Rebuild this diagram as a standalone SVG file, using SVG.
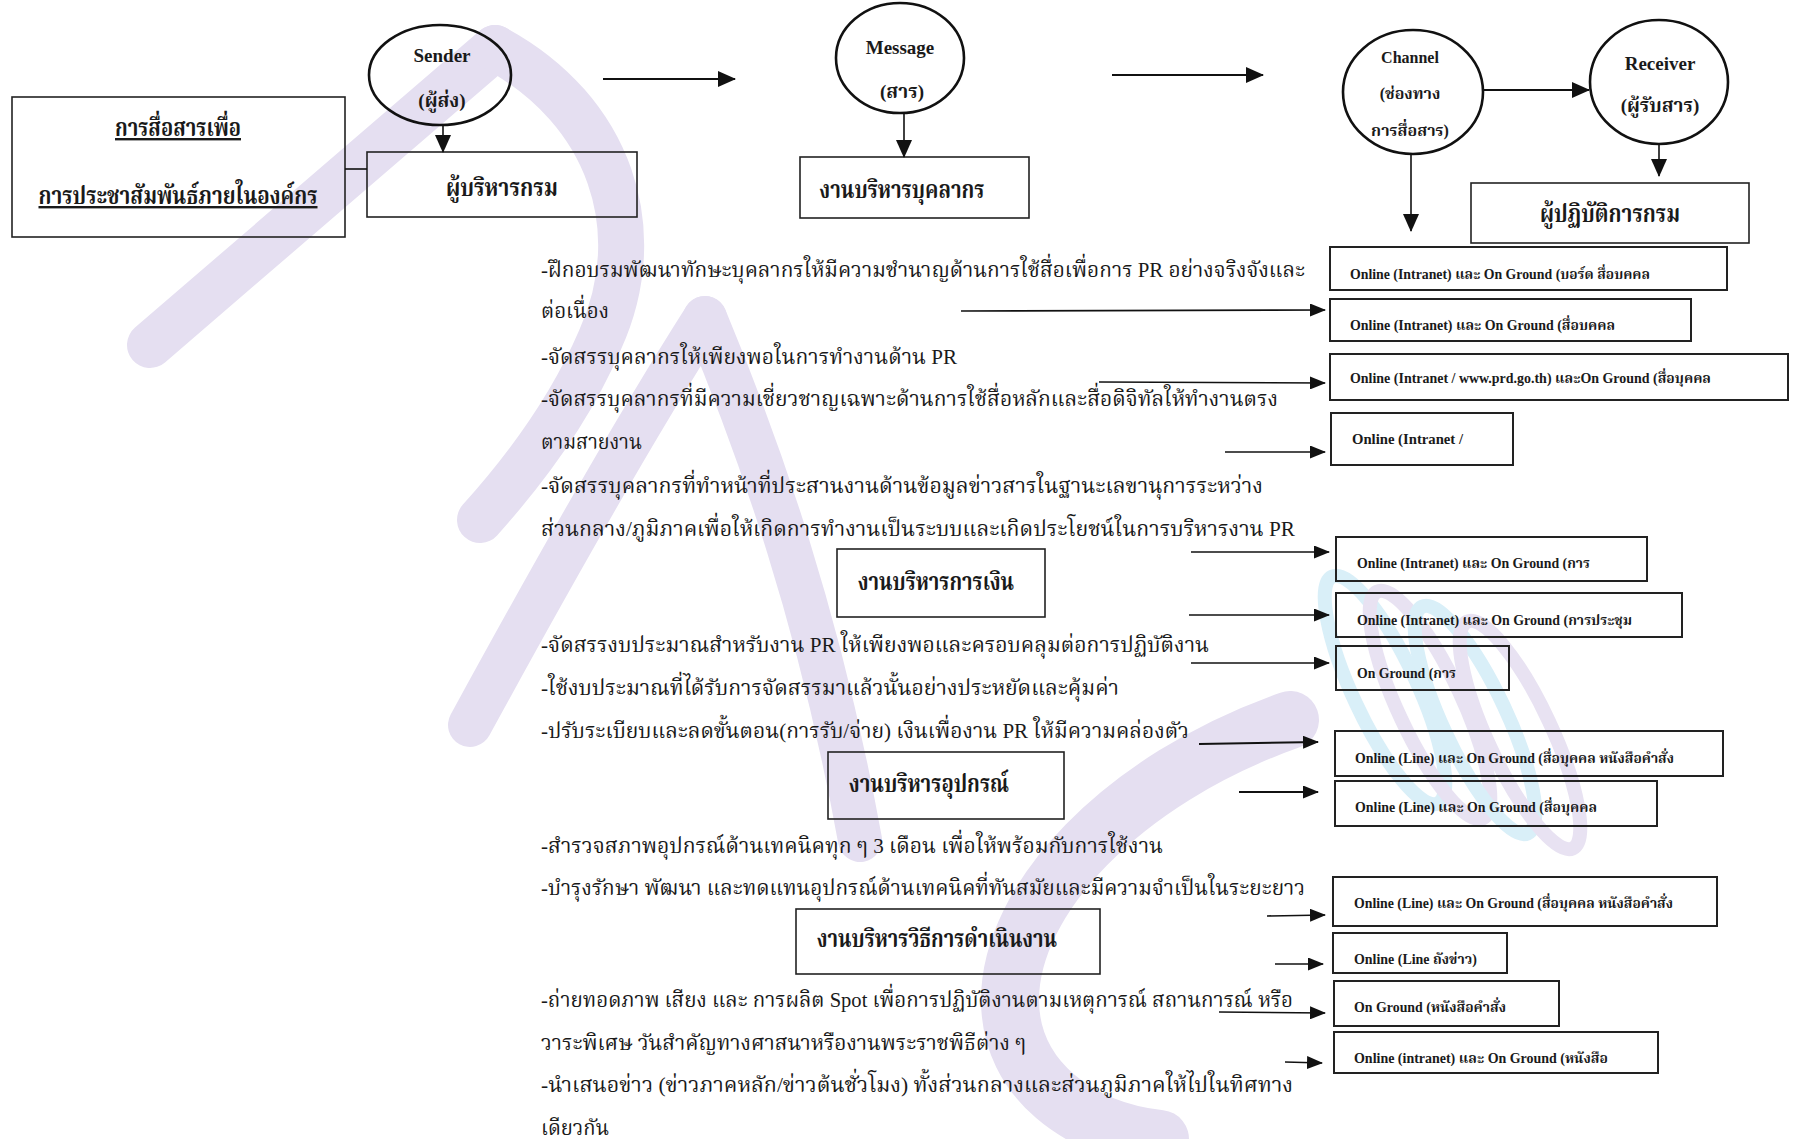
<svg xmlns="http://www.w3.org/2000/svg" width="1794" height="1139" viewBox="0 0 1794 1139">
  <defs>
    <marker id="head" markerUnits="userSpaceOnUse" markerWidth="16" markerHeight="13" refX="15" refY="6.5" orient="auto">
      <path d="M0,0 L16,6.5 L0,13 z" fill="#111"/>
    </marker>
    <marker id="headBig" markerUnits="userSpaceOnUse" markerWidth="18" markerHeight="16" refX="17" refY="8" orient="auto">
      <path d="M0,0 L18,8 L0,16 z" fill="#111"/>
    </marker>
    <style>
      .bg { fill: #ffffff; }
      .wm { fill: none; stroke: #e5dff1; stroke-linecap: round; }
      .wmc { fill: none; stroke: #d9eff8; }
      .wml { fill: none; stroke: #e8e2f2; }
      .box { fill: none; stroke: #222; stroke-width: 1.6; }
      .rbox { fill: none; stroke: #222; stroke-width: 2; }
      .oval { fill: none; stroke: #111; stroke-width: 2.6; }
      .con { fill: none; stroke: #111; stroke-width: 1.6; }
      .conT { fill: none; stroke: #111; stroke-width: 2; }
      text { font-family: "Liberation Serif", "Noto Serif Thai", "Noto Sans Thai", "Loma", serif; fill: #1a1a1a; }
      .body { font-size: 22px; }
      .lbl { font-size: 24px; font-weight: bold; text-anchor: middle; }
      .ov { font-size: 19px; font-weight: bold; text-anchor: middle; }
      .ovs { font-size: 16px; font-weight: bold; text-anchor: middle; }
      .rt { font-size: 14px; font-weight: bold; }
      .ul { text-decoration: underline; }
    </style>
  </defs>

  <rect class="bg" x="0" y="0" width="1794" height="1139"/>

  <!-- faint background emblem -->
  <g id="emblem">
    <path class="wm" stroke-width="46" d="M150,345 L495,48"/>
    <path class="wm" stroke-width="46" d="M495,48 C610,110 650,230 600,340 C570,410 525,470 480,520"/>
    <path class="wm" stroke-width="44" d="M470,725 C560,560 640,420 705,318"/>
    <path class="wm" stroke-width="44" d="M705,318 C760,450 820,620 860,840"/>
    <path class="wm" stroke-width="58" d="M1290,720 C1120,780 1010,900 1010,1000 C1010,1080 1080,1130 1160,1139"/>
    <g>
      <ellipse class="wmc" stroke-width="14" cx="1385" cy="690" rx="32" ry="125" transform="rotate(-25 1385 690)"/>
      <ellipse class="wml" stroke-width="14" cx="1430" cy="705" rx="32" ry="125" transform="rotate(-25 1430 705)"/>
      <ellipse class="wmc" stroke-width="14" cx="1475" cy="720" rx="32" ry="125" transform="rotate(-25 1475 720)"/>
      <ellipse class="wml" stroke-width="14" cx="1520" cy="735" rx="32" ry="125" transform="rotate(-25 1520 735)"/>
    </g>
  </g>

  <!-- title box -->
  <g id="title">
    <rect class="box" x="12" y="97" width="333" height="140"/>
    <text class="lbl ul" x="178" y="136" textLength="126" lengthAdjust="spacingAndGlyphs">การสื่อสารเพื่อ</text>
    <text class="lbl ul" x="178" y="204" textLength="279" lengthAdjust="spacingAndGlyphs">การประชาสัมพันธ์ภายในองค์กร</text>
  </g>

  <!-- model ovals -->
  <g id="sender">
    <ellipse class="oval" cx="440" cy="75" rx="71" ry="50"/>
    <text class="ov" x="442" y="62">Sender</text>
    <text class="ov" x="442" y="107">(ผู้ส่ง)</text>
  </g>
  <g id="message">
    <ellipse class="oval" cx="900" cy="58" rx="64" ry="55"/>
    <text class="ov" x="900" y="54">Message</text>
    <text class="ov" x="902" y="98">(สาร)</text>
  </g>
  <g id="channel">
    <ellipse class="oval" cx="1413" cy="92" rx="70" ry="62"/>
    <text class="ovs" x="1410" y="63">Channel</text>
    <text class="ovs" x="1410" y="99">(ช่องทาง</text>
    <text class="ovs" x="1410" y="136">การสื่อสาร)</text>
  </g>
  <g id="receiver">
    <ellipse class="oval" cx="1659" cy="82" rx="69" ry="62"/>
    <text class="ov" x="1660" y="70">Receiver</text>
    <text class="ov" x="1660" y="112">(ผู้รับสาร)</text>
  </g>

  <!-- header boxes -->
  <g id="executive">
    <rect class="box" x="367" y="152" width="270" height="65"/>
    <text class="lbl" x="502" y="196" textLength="112" lengthAdjust="spacingAndGlyphs">ผู้บริหารกรม</text>
  </g>
  <g id="personnel">
    <rect class="box" x="800" y="157" width="229" height="61"/>
    <text class="lbl" x="902" y="198" textLength="165" lengthAdjust="spacingAndGlyphs">งานบริหารบุคลากร</text>
  </g>
  <g id="operators">
    <rect class="box" x="1471" y="183" width="278" height="60"/>
    <text class="lbl" x="1610" y="222" textLength="140" lengthAdjust="spacingAndGlyphs">ผู้ปฏิบัติการกรม</text>
  </g>
  <g id="finance">
    <rect class="box" x="837" y="549" width="208" height="68"/>
    <text class="lbl" x="936" y="590" textLength="156" lengthAdjust="spacingAndGlyphs">งานบริหารการเงิน</text>
  </g>
  <g id="equipment">
    <rect class="box" x="828" y="752" width="236" height="67"/>
    <text class="lbl" x="929" y="792" textLength="160" lengthAdjust="spacingAndGlyphs">งานบริหารอุปกรณ์</text>
  </g>
  <g id="methods">
    <rect class="box" x="796" y="909" width="304" height="65"/>
    <text class="lbl" x="937" y="947" textLength="240" lengthAdjust="spacingAndGlyphs">งานบริหารวิธีการดำเนินงาน</text>
  </g>

  <!-- task lists -->
  <g id="personnel-tasks">
    <text class="body" x="541" y="277" textLength="764" lengthAdjust="spacingAndGlyphs">-ฝึกอบรมพัฒนาทักษะบุคลากรให้มีความชำนาญด้านการใช้สื่อเพื่อการ PR อย่างจริงจังและ</text>
    <text class="body" x="541" y="318" textLength="68" lengthAdjust="spacingAndGlyphs">ต่อเนื่อง</text>
    <text class="body" x="541" y="364" textLength="416" lengthAdjust="spacingAndGlyphs">-จัดสรรบุคลากรให้เพียงพอในการทำงานด้าน PR</text>
    <text class="body" x="541" y="406" textLength="737" lengthAdjust="spacingAndGlyphs">-จัดสรรบุคลากรที่มีความเชี่ยวชาญเฉพาะด้านการใช้สื่อหลักและสื่อดิจิทัลให้ทำงานตรง</text>
    <text class="body" x="541" y="449" textLength="101" lengthAdjust="spacingAndGlyphs">ตามสายงาน</text>
    <text class="body" x="541" y="493" textLength="722" lengthAdjust="spacingAndGlyphs">-จัดสรรบุคลากรที่ทำหน้าที่ประสานงานด้านข้อมูลข่าวสารในฐานะเลขานุการระหว่าง</text>
    <text class="body" x="541" y="536" textLength="754" lengthAdjust="spacingAndGlyphs">ส่วนกลาง/ภูมิภาคเพื่อให้เกิดการทำงานเป็นระบบและเกิดประโยชน์ในการบริหารงาน PR</text>
  </g>
  <g id="finance-tasks">
    <text class="body" x="541" y="652" textLength="668" lengthAdjust="spacingAndGlyphs">-จัดสรรงบประมาณสำหรับงาน PR ให้เพียงพอและครอบคลุมต่อการปฏิบัติงาน</text>
    <text class="body" x="541" y="695" textLength="578" lengthAdjust="spacingAndGlyphs">-ใช้งบประมาณที่ได้รับการจัดสรรมาแล้วนั้นอย่างประหยัดและคุ้มค่า</text>
    <text class="body" x="541" y="738" textLength="648" lengthAdjust="spacingAndGlyphs">-ปรับระเบียบและลดขั้นตอน(การรับ/จ่าย) เงินเพื่องาน PR ให้มีความคล่องตัว</text>
  </g>
  <g id="equipment-tasks">
    <text class="body" x="541" y="853" textLength="622" lengthAdjust="spacingAndGlyphs">-สำรวจสภาพอุปกรณ์ด้านเทคนิคทุก ๆ 3 เดือน เพื่อให้พร้อมกับการใช้งาน</text>
    <text class="body" x="541" y="895" textLength="764" lengthAdjust="spacingAndGlyphs">-บำรุงรักษา พัฒนา และทดแทนอุปกรณ์ด้านเทคนิคที่ทันสมัยและมีความจำเป็นในระยะยาว</text>
  </g>
  <g id="methods-tasks">
    <text class="body" x="541" y="1007" textLength="752" lengthAdjust="spacingAndGlyphs">-ถ่ายทอดภาพ เสียง และ การผลิต Spot เพื่อการปฏิบัติงานตามเหตุการณ์ สถานการณ์ หรือ</text>
    <text class="body" x="541" y="1050" textLength="485" lengthAdjust="spacingAndGlyphs">วาระพิเศษ วันสำคัญทางศาสนาหรืองานพระราชพิธีต่าง ๆ</text>
    <text class="body" x="541" y="1092" textLength="752" lengthAdjust="spacingAndGlyphs">-นำเสนอข่าว (ข่าวภาคหลัก/ข่าวต้นชั่วโมง) ทั้งส่วนกลางและส่วนภูมิภาคให้ไปในทิศทาง</text>
    <text class="body" x="541" y="1135" textLength="68" lengthAdjust="spacingAndGlyphs">เดียวกัน</text>
  </g>

  <!-- channel boxes -->
  <g id="ch1"><rect class="rbox" x="1330" y="247" width="397" height="43"/><text class="rt" x="1350" y="279" textLength="300" lengthAdjust="spacingAndGlyphs">Online (Intranet) และ On Ground (บอร์ด สื่อบคคล</text></g>
  <g id="ch2"><rect class="rbox" x="1330" y="299" width="361" height="42"/><text class="rt" x="1350" y="330" textLength="265" lengthAdjust="spacingAndGlyphs">Online (Intranet) และ On Ground (สื่อบคคล</text></g>
  <g id="ch3"><rect class="rbox" x="1330" y="354" width="458" height="46"/><text class="rt" x="1350" y="383" textLength="361" lengthAdjust="spacingAndGlyphs">Online (Intranet / www.prd.go.th) และOn Ground (สื่อบุคคล</text></g>
  <g id="ch4"><rect class="rbox" x="1331" y="413" width="182" height="52"/><text class="rt" x="1352" y="444" textLength="111" lengthAdjust="spacingAndGlyphs">Online (Intranet /</text></g>
  <g id="ch5"><rect class="rbox" x="1336" y="537" width="311" height="44"/><text class="rt" x="1357" y="568" textLength="233" lengthAdjust="spacingAndGlyphs">Online (Intranet) และ On Ground (การ</text></g>
  <g id="ch6"><rect class="rbox" x="1336" y="593" width="346" height="44"/><text class="rt" x="1357" y="625" textLength="275" lengthAdjust="spacingAndGlyphs">Online (Intranet) และ On Ground (การประชุม</text></g>
  <g id="ch7"><rect class="rbox" x="1336" y="646" width="173" height="44"/><text class="rt" x="1357" y="678" textLength="99" lengthAdjust="spacingAndGlyphs">On Ground (การ</text></g>
  <g id="ch8"><rect class="rbox" x="1335" y="731" width="388" height="45"/><text class="rt" x="1355" y="763" textLength="319" lengthAdjust="spacingAndGlyphs">Online (Line) และ On Ground (สื่อบุคคล หนังสือคำสั่ง</text></g>
  <g id="ch9"><rect class="rbox" x="1335" y="781" width="322" height="45"/><text class="rt" x="1355" y="812" textLength="242" lengthAdjust="spacingAndGlyphs">Online (Line) และ On Ground (สื่อบุคคล</text></g>
  <g id="ch10"><rect class="rbox" x="1333" y="877" width="384" height="49"/><text class="rt" x="1354" y="908" textLength="319" lengthAdjust="spacingAndGlyphs">Online (Line) และ On Ground (สื่อบุคคล หนังสือคำสั่ง</text></g>
  <g id="ch11"><rect class="rbox" x="1333" y="933" width="174" height="40"/><text class="rt" x="1354" y="964" textLength="123" lengthAdjust="spacingAndGlyphs">Online (Line ถังข่าว)</text></g>
  <g id="ch12"><rect class="rbox" x="1334" y="981" width="225" height="45"/><text class="rt" x="1354" y="1012" textLength="152" lengthAdjust="spacingAndGlyphs">On Ground (หนังสือคำสั่ง</text></g>
  <g id="ch13"><rect class="rbox" x="1334" y="1032" width="324" height="41"/><text class="rt" x="1354" y="1063" textLength="254" lengthAdjust="spacingAndGlyphs">Online (intranet) และ On Ground (หนังสือ</text></g>

  <!-- connectors -->
  <g id="connectors">
    <line class="con" x1="345" y1="169" x2="367" y2="169"/>
    <line class="con" x1="443" y1="125" x2="443" y2="152" marker-end="url(#headBig)"/>
    <line class="conT" x1="603" y1="79" x2="735" y2="79" marker-end="url(#headBig)"/>
    <line class="con" x1="904" y1="114" x2="904" y2="157" marker-end="url(#headBig)"/>
    <line class="conT" x1="1112" y1="75" x2="1263" y2="75" marker-end="url(#headBig)"/>
    <line class="conT" x1="1484" y1="90" x2="1589" y2="90" marker-end="url(#headBig)"/>
    <line class="con" x1="1659" y1="144" x2="1659" y2="176" marker-end="url(#headBig)"/>
    <line class="con" x1="1411" y1="153" x2="1411" y2="231" marker-end="url(#headBig)"/>

    <line class="con" x1="961" y1="311" x2="1325" y2="310" marker-end="url(#head)"/>
    <line class="con" x1="1099" y1="382" x2="1325" y2="383" marker-end="url(#head)"/>
    <line class="con" x1="1225" y1="452" x2="1325" y2="452" marker-end="url(#head)"/>
    <line class="con" x1="1191" y1="552" x2="1329" y2="552" marker-end="url(#head)"/>
    <line class="con" x1="1189" y1="615" x2="1329" y2="615" marker-end="url(#head)"/>
    <line class="con" x1="1191" y1="663" x2="1329" y2="663" marker-end="url(#head)"/>
    <line class="conT" x1="1199" y1="744" x2="1318" y2="742" marker-end="url(#head)"/>
    <line class="conT" x1="1239" y1="792" x2="1318" y2="792" marker-end="url(#head)"/>
    <line class="con" x1="1267" y1="916" x2="1325" y2="915" marker-end="url(#head)"/>
    <line class="con" x1="1275" y1="964" x2="1323" y2="964" marker-end="url(#head)"/>
    <line class="con" x1="1219" y1="1012" x2="1325" y2="1013" marker-end="url(#head)"/>
    <line class="con" x1="1285" y1="1062" x2="1322" y2="1063" marker-end="url(#head)"/>
  </g>
</svg>
